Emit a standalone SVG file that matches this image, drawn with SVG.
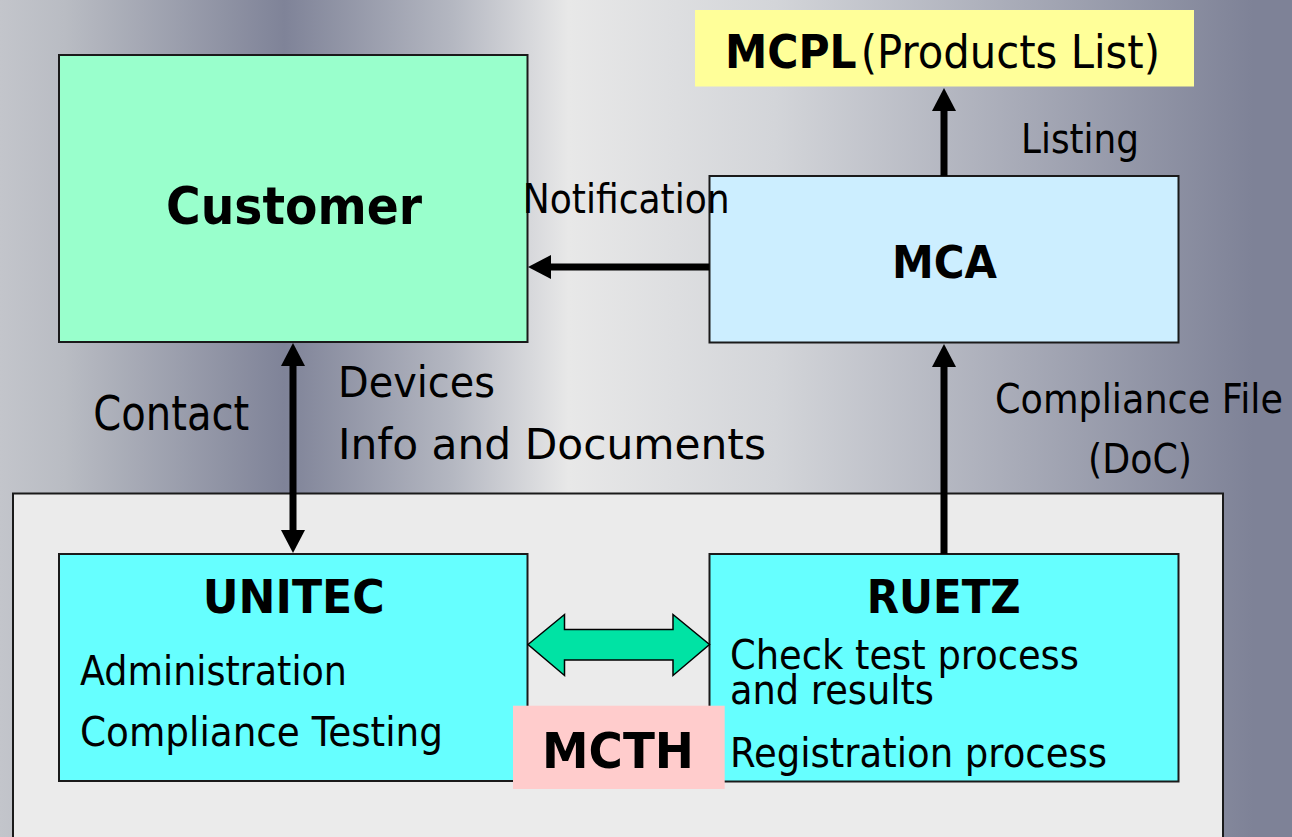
<svg xmlns="http://www.w3.org/2000/svg" width="1292" height="837" viewBox="0 0 1292 837">
<defs>
<linearGradient id="bg" x1="0" y1="0" x2="1292" y2="0" gradientUnits="userSpaceOnUse">
<stop offset="0" stop-color="#c3c5cb"/>
<stop offset="0.05" stop-color="#b9bcc3"/>
<stop offset="0.22" stop-color="#7f8398"/>
<stop offset="0.35" stop-color="#b4b7c1"/>
<stop offset="0.44" stop-color="#e8e8e8"/>
<stop offset="0.6" stop-color="#d3d5d9"/>
<stop offset="0.97" stop-color="#7e8297"/>
<stop offset="1" stop-color="#7e8297"/>
</linearGradient>
<marker id="ah" markerUnits="userSpaceOnUse" markerWidth="24" markerHeight="24" refX="0" refY="12" orient="auto-start-reverse" viewBox="0 0 24 24">
<path d="M0,0 L23,12 L0,24 z" fill="#000"/>
</marker>
<style>
.box{stroke:#1a1a1a;stroke-width:2}
.t{font-family:"DejaVu Sans","Liberation Sans",sans-serif;fill:#000}
.b{font-weight:bold}
.conn{stroke:#000;stroke-width:7;fill:none}
</style>
</defs>
<rect x="0" y="0" width="1292" height="837" fill="url(#bg)"/>

<g id="container">
<rect x="13" y="493.5" width="1210" height="360" fill="#ebebeb" class="box"/>
</g>

<g id="customer">
<rect x="59" y="55" width="468.5" height="287" fill="#99ffcc" class="box"/>
<text class="t b" x="166" y="224" font-size="51" textLength="256" lengthAdjust="spacingAndGlyphs">Customer</text>
</g>

<g id="mca">
<rect x="709.5" y="176" width="469" height="166.5" fill="#cceeff" class="box"/>
<text class="t b" x="892" y="278" font-size="44" textLength="105" lengthAdjust="spacingAndGlyphs">MCA</text>
</g>

<g id="mcpl">
<rect x="695" y="10" width="499" height="76.5" fill="#ffff99"/>
<text class="t" y="68" font-size="47"><tspan class="b" x="725" textLength="131.7" lengthAdjust="spacingAndGlyphs">MCPL</tspan><tspan x="860.7" textLength="299.3" lengthAdjust="spacingAndGlyphs">(Products List)</tspan></text>
</g>

<g id="unitec">
<rect x="59" y="554" width="468.5" height="227" fill="#66ffff" class="box"/>
<text class="t b" x="202.7" y="613" font-size="46" textLength="182" lengthAdjust="spacingAndGlyphs">UNITEC</text>
<text class="t" x="80" y="685" font-size="40" textLength="267" lengthAdjust="spacingAndGlyphs">Administration</text>
<text class="t" x="80" y="746" font-size="40" textLength="363" lengthAdjust="spacingAndGlyphs">Compliance Testing</text>
</g>

<g id="ruetz">
<rect x="709.5" y="554" width="469" height="227.5" fill="#66ffff" class="box"/>
<text class="t b" x="866.7" y="613" font-size="46" textLength="154" lengthAdjust="spacingAndGlyphs">RUETZ</text>
<text class="t" x="730" y="669" font-size="40" textLength="349" lengthAdjust="spacingAndGlyphs">Check test process</text>
<text class="t" x="730" y="704" font-size="40" textLength="204" lengthAdjust="spacingAndGlyphs">and results</text>
<text class="t" x="730" y="766.5" font-size="41" textLength="377" lengthAdjust="spacingAndGlyphs">Registration process</text>
</g>

<g id="connectors">
<line class="conn" x1="944" y1="176" x2="944" y2="111" marker-end="url(#ah)"/>
<text class="t" x="1021" y="153" font-size="41" textLength="118" lengthAdjust="spacingAndGlyphs">Listing</text>
<line class="conn" x1="709.5" y1="267" x2="551" y2="267" marker-end="url(#ah)"/>
<text class="t" x="522.7" y="213" font-size="40" textLength="207" lengthAdjust="spacingAndGlyphs">Notification</text>
<line class="conn" x1="293" y1="366" x2="293" y2="530" marker-start="url(#ah)" marker-end="url(#ah)"/>
<text class="t" x="93.3" y="430" font-size="48" textLength="156" lengthAdjust="spacingAndGlyphs">Contact</text>
<text class="t" x="338" y="397" font-size="42" textLength="157" lengthAdjust="spacingAndGlyphs">Devices</text>
<text class="t" x="338" y="459" font-size="42" textLength="428" lengthAdjust="spacingAndGlyphs">Info and Documents</text>
<line class="conn" x1="944" y1="554" x2="944" y2="367" marker-end="url(#ah)"/>
<text class="t" x="995" y="413" font-size="41" textLength="288" lengthAdjust="spacingAndGlyphs">Compliance File</text>
<text class="t" x="1088" y="473" font-size="41" textLength="104" lengthAdjust="spacingAndGlyphs">(DoC)</text>
<polygon points="528,644.5 564.5,614.5 564.5,629.5 673,629.5 673,614.5 709.5,644.5 673,675.5 673,660 564.5,660 564.5,675.5" fill="#00e3a4" stroke="#000" stroke-width="1.5"/>
</g>

<g id="mcth">
<rect x="513" y="705.7" width="211.7" height="83.3" fill="#ffcccc"/>
<text class="t b" x="542" y="768" font-size="50" textLength="152" lengthAdjust="spacingAndGlyphs">MCTH</text>
</g>
</svg>
